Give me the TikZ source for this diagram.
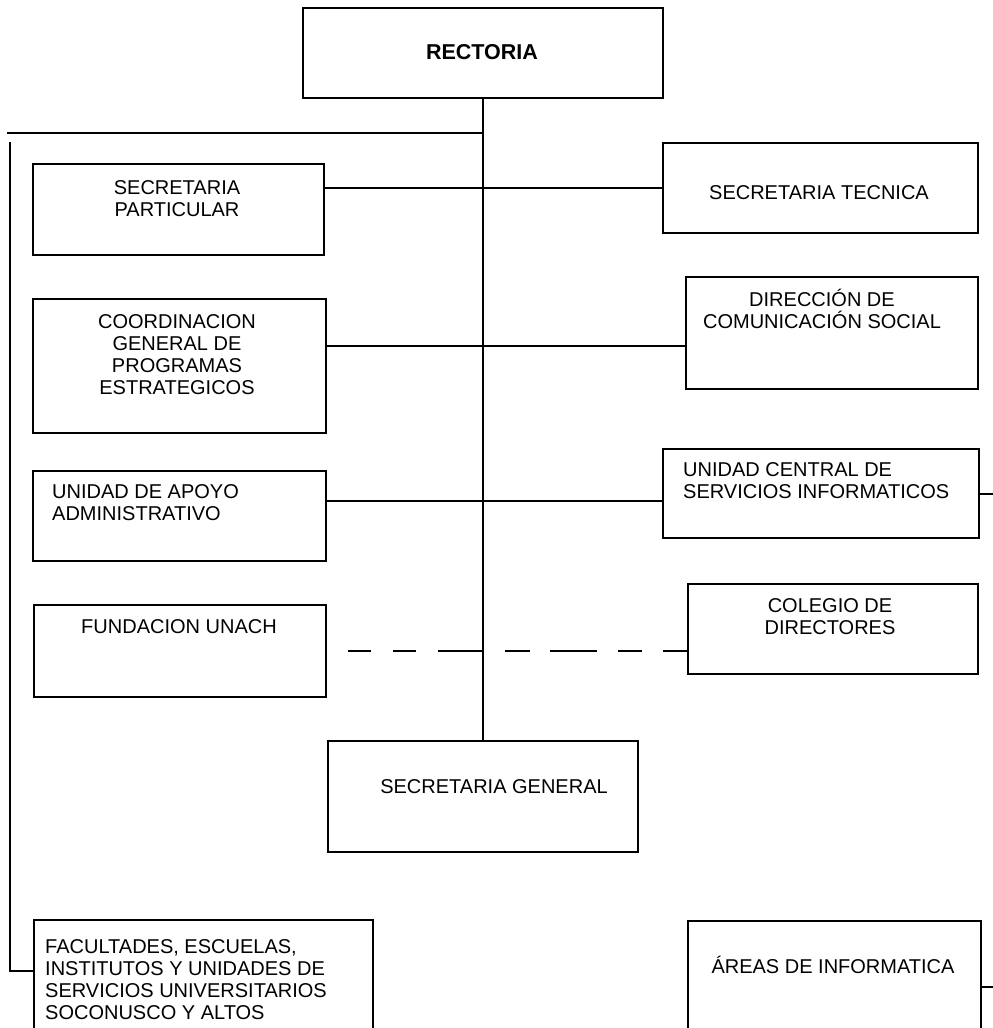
\documentclass[tikz,border=0pt]{standalone}
\usepackage{fontspec}
\setmainfont{Liberation Sans}
\usetikzlibrary{calc}
\begin{document}
\begin{tikzpicture}[x=1pt,y=-1pt,
  box/.style={draw=black,line width=2.4pt,fill=white,inner sep=0pt,anchor=north west},
  lbl/.style={inner sep=0pt,align=center,font=\fontsize{20}{22}\selectfont},
  lbll/.style={inner sep=0pt,align=left,anchor=west,font=\fontsize{20}{22}\selectfont},
  conn/.style={line width=2.4pt},
  dashl/.style={line width=2.4pt,dash pattern=on 45pt off 22pt on 23pt off 22pt on 23pt off 60pt},
  dashr/.style={line width=2.4pt,dash pattern=on 24pt off 21pt on 24pt off 21pt on 47pt off 20pt on 25pt off 60pt},
]
\useasboundingbox (0,0) rectangle (993,1028);
\clip (0,0) rectangle (993,1028);
\fill[white] (0,0) rectangle (993,1028);

% free ends of the side lines
\coordinate (tl) at (7,133);
\coordinate (lt) at (10,142);
\coordinate (redge) at (993,0);

% boxes
\node[box,minimum width=360pt,minimum height=90pt]  (rect) at (302,7) {};
\node[box,minimum width=291pt,minimum height=91pt]  (sp)   at (32,163) {};
\node[box,minimum width=315pt,minimum height=90pt]  (st)   at (662,142) {};
\node[box,minimum width=293pt,minimum height=134pt] (cg)   at (32,298) {};
\node[box,minimum width=292pt,minimum height=112pt] (dc)   at (685,276) {};
\node[box,minimum width=293pt,minimum height=90pt]  (ua)   at (32,470) {};
\node[box,minimum width=316pt,minimum height=89pt]  (uc)   at (662,448) {};
\node[box,minimum width=292pt,minimum height=92pt]  (fu)   at (33,604) {};
\node[box,minimum width=290pt,minimum height=90pt]  (co)   at (687,583) {};
\node[box,minimum width=310pt,minimum height=111pt] (sg)   at (327,740) {};
\node[box,minimum width=339pt,minimum height=140pt] (fa)   at (33,919) {};
\node[box,minimum width=293pt,minimum height=140pt] (ar)   at (687,920) {};

% labels
\node[inner sep=0pt,font=\fontsize{21.5}{24}\selectfont\bfseries] (rect-t) at (482,52) {RECTORIA};
\node[lbl] (sp-t) at (177,198.5) {SECRETARIA\\PARTICULAR};
\node[lbl] (st-t) at (819,193) {SECRETARIA TECNICA};
\node[lbl] (cg-t) at (177,355) {COORDINACION\\GENERAL DE\\PROGRAMAS\\ESTRATEGICOS};
\node[lbl] (dc-t) at (822,309) {DIRECCIÓN DE\\COMUNICACIÓN SOCIAL};
\node[lbll] (ua-t) at (52,503) {UNIDAD DE APOYO\\ADMINISTRATIVO};
\node[lbll] (uc-t) at (683,481) {UNIDAD CENTRAL DE\\SERVICIOS INFORMATICOS};
\node[lbl] (fu-t) at (179,627) {FUNDACION UNACH};
\node[lbl] (co-t) at (830,617) {COLEGIO DE\\DIRECTORES};
\node[lbl] (sg-t) at (494,787) {SECRETARIA GENERAL};
\node[lbll] (fa-t) at (45,980) {FACULTADES, ESCUELAS,\\INSTITUTOS Y UNIDADES DE\\SERVICIOS UNIVERSITARIOS\\SOCONUSCO Y ALTOS};
\node[lbl] (ar-t) at (833,965) {ÁREAS DE INFORMATICA};

% connectors
\draw[conn] (rect.south) -- (sg.north);
\draw[conn] (tl) -- (tl -| rect.south);
\draw[conn] (lt) |- ([yshift=-52pt]fa.north west);
\draw[conn] (st.west) -- (st.west -| sp.east);
\draw[conn] ([yshift=20pt]cg.east) coordinate (c2) -- (c2 -| dc.west);
\draw[conn] ([yshift=15pt]ua.east) coordinate (c3) -- (c3 -| uc.west);
\draw[conn] (uc.east) -- (uc.east -| redge);
\draw[conn] ([yshift=-67pt]ar.north east) coordinate (c4) -- (c4 -| redge);
\draw[dashl] (fu.east -| rect.south) -- (fu.east);
\draw[dashr] (co.west |- fu.east) -- (fu.east -| rect.south);
\end{tikzpicture}
\end{document}
